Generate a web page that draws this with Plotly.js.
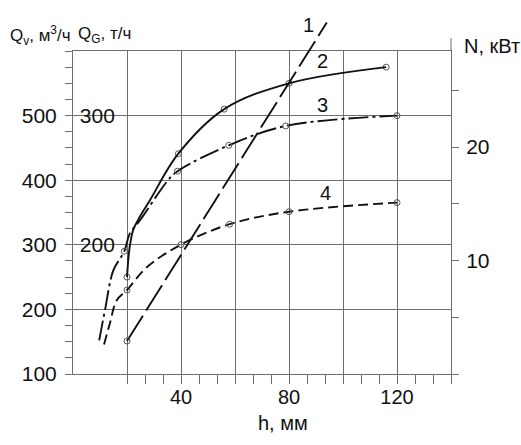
<!DOCTYPE html>
<html>
<head>
<meta charset="utf-8">
<script src="https://cdn.plot.ly/plotly-3.0.1.min.js"></script>
<style>html,body{margin:0;padding:0;background:#fff;}</style>
</head>
<body>
<div id="chart" style="width:521px;height:445px;"></div>
<script>
// ---- data ----
// curve 1 (long dashes), Qv, м3/ч
const h1 = [20, 94];
const q1 = [151, 644];
const mk1 = [0];
// curve 2 (solid), Qv, м3/ч
const h2 = [20, 21, 22.3, 24.7, 28.5, 39, 56, 80, 116];
const q2 = [250, 297, 323, 343, 369, 441, 510, 550, 575];
const mk2 = [0, 5, 6, 7, 8];
// curve 3 (dash-dot), QG, т/ч
const h3 = [9.7, 11.9, 14.9, 19, 21.1, 24.8, 35.2, 38.7, 57.7, 78.8, 120];
const g3 = [126, 150, 180, 195, 209, 219, 250, 257, 277, 292, 300];
const mk3 = [3, 7, 8, 9, 10];
// curve 4 (short dashes), N, кВт
const h4 = [11.5, 13.7, 16.2, 20, 27.3, 40, 58, 80, 120];
const n4 = [2.6, 4.5, 6.5, 7.4, 9.4, 11.4, 13.2, 14.3, 15.1];
const mk4 = [3, 5, 6, 7, 8];

// tick labels / grid positions
const xLabelVals = [40, 80, 120];
const xGridVals = [20, 60, 100];
const qvTickVals = [100, 200, 300, 400, 500];
const qgTickVals = [200, 300];
const nTickVals = [10, 20];

// ---- styling ----
const FONT = '"Liberation Sans Narrow", "Arial Narrow", "Liberation Sans", Arial, sans-serif';
const GRID = '#6f6f6f';
const INK = '#111111';
const MK = {symbol: 'circle-open', size: 6, color: '#555', line: {width: 1, color: '#555'}};

function curve(h, v, dash, xa, ya) {
  return {x: h, y: v, mode: 'lines', xaxis: xa, yaxis: ya, hoverinfo: 'skip',
          line: {color: INK, width: 1.9, dash: dash, shape: 'spline', smoothing: 1}};
}
function marks(h, v, idx, xa, ya) {
  return {x: idx.map(i => h[i]), y: idx.map(i => v[i]), mode: 'markers',
          xaxis: xa, yaxis: ya, marker: MK, hoverinfo: 'skip'};
}

const traces = [
  curve(h2, q2, 'solid', 'x3', 'y'), marks(h2, q2, mk2, 'x', 'y'),
  curve(h3, g3, '20px,4px,3px,4px', 'x', 'y2'), marks(h3, g3, mk3, 'x', 'y2'),
  curve(h4, n4, '10px,5px', 'x', 'y3'), marks(h4, n4, mk4, 'x', 'y3'),
  {x: h1, y: q1, mode: 'lines', xaxis: 'x2', yaxis: 'y4', hoverinfo: 'skip',
   line: {color: INK, width: 1.9, dash: '30px,6px'}},
  marks(h1, q1, mk1, 'x2', 'y4')
];

// plot area: x 73..451, y 15..374 ; main grid top at y=51
const PH = 359;
const D = 323 / PH;

const layout = {
  width: 521, height: 445,
  margin: {l: 73, r: 70, t: 15, b: 71, pad: 0},
  paper_bgcolor: '#ffffff', plot_bgcolor: 'rgba(0,0,0,0)',
  showlegend: false,
  font: {family: FONT, size: 20, color: INK},
  xaxis: {
    domain: [0, 1], range: [0, 140], anchor: 'y',
    tickmode: 'array', tickvals: xLabelVals,
    ticks: 'outside', ticklen: 9, tickcolor: GRID, tickwidth: 1, ticklabelstandoff: -4,
    tickfont: {size: 20, family: FONT, color: INK},
    showgrid: true, gridcolor: GRID, gridwidth: 1,
    showline: true, mirror: true, linecolor: GRID, linewidth: 1, zeroline: false,
    minor: {dtick: 20 / 3, tick0: 0, ticks: 'outside', ticklen: 9, tickcolor: GRID, tickwidth: 1, showgrid: false}
  },
  xaxis3: {
    overlaying: 'x', anchor: 'y', range: [0, 140],
    tickmode: 'array', tickvals: xGridVals, ticks: '', showticklabels: false,
    showgrid: true, gridcolor: GRID, gridwidth: 1, showline: false, zeroline: false
  },
  yaxis: {
    domain: [0, D], range: [100, 600], anchor: 'x',
    tickmode: 'array', tickvals: qvTickVals,
    ticks: 'outside', ticklen: 7, tickcolor: GRID, tickwidth: 1, ticklabelstandoff: 4,
    tickfont: {size: 21, family: FONT, color: INK},
    showgrid: true, gridcolor: GRID, gridwidth: 1,
    showline: true, linecolor: GRID, linewidth: 1, zeroline: false,
    minor: {dtick: 25, tick0: 0, ticks: 'outside', ticklen: 7, tickcolor: GRID, tickwidth: 1, showgrid: false}
  },
  yaxis2: {
    overlaying: 'y', anchor: 'x', side: 'left', range: [100, 350],
    tickmode: 'array', tickvals: qgTickVals,
    ticks: 'inside', ticklen: 6, tickcolor: GRID, tickwidth: 1,
    ticklabelposition: 'inside', ticklabelstandoff: 2,
    tickfont: {size: 21, family: FONT, color: INK},
    showgrid: false, showline: false, zeroline: false
  },
  yaxis3: {
    overlaying: 'y', anchor: 'x', side: 'right', range: [0, 28.46],
    tickmode: 'array', tickvals: nTickVals,
    ticks: 'outside', ticklen: 7, tickcolor: GRID, tickwidth: 1, ticklabelstandoff: 3,
    tickfont: {size: 21, family: FONT, color: INK},
    showgrid: false, showline: true, linecolor: GRID, linewidth: 1, zeroline: false,
    minor: {dtick: 5, tick0: 0, ticks: 'outside', ticklen: 7, tickcolor: GRID, tickwidth: 1, showgrid: false}
  },
  xaxis2: {domain: [0, 1], range: [0, 140], anchor: 'y4', visible: false},
  yaxis4: {domain: [0, 1], range: [100, 100 + PH * 500 / 323], anchor: 'x2', visible: false},
  shapes: [
    {type: 'line', xref: 'paper', yref: 'paper', x0: 1, x1: 1, y0: D, y1: (374 - 38) / PH,
     line: {color: GRID, width: 1}}
  ],
  annotations: [
    {text: 'Q<sub>v</sub>, м<sup>3</sup>/ч', xref: 'paper', yref: 'paper', x: (8 - 73) / 378, y: (374 - 35) / PH,
     xanchor: 'left', yanchor: 'middle', showarrow: false, font: {size: 17}},
    {text: 'Q<sub>G</sub>, т/ч', xref: 'paper', yref: 'paper', x: (76 - 73) / 378, y: (374 - 35) / PH,
     xanchor: 'left', yanchor: 'middle', showarrow: false, font: {size: 17}},
    {text: 'N, кВт', xref: 'paper', yref: 'paper', x: (462 - 73) / 378, y: (374 - 46) / PH,
     xanchor: 'left', yanchor: 'middle', showarrow: false, font: {size: 20}},
    {text: 'h, мм', xref: 'paper', yref: 'paper', x: (283 - 73) / 378, y: (374 - 423) / PH,
     xanchor: 'center', yanchor: 'middle', showarrow: false, font: {size: 20}},
    {text: '1', xref: 'paper', yref: 'paper', x: (308 - 73) / 378, y: (374 - 25) / PH,
     xanchor: 'center', yanchor: 'middle', showarrow: false, font: {size: 20}},
    {text: '2', xref: 'paper', yref: 'paper', x: (322 - 73) / 378, y: (374 - 61) / PH,
     xanchor: 'center', yanchor: 'middle', showarrow: false, font: {size: 20}},
    {text: '3', xref: 'paper', yref: 'paper', x: (322 - 73) / 378, y: (374 - 105) / PH,
     xanchor: 'center', yanchor: 'middle', showarrow: false, font: {size: 20}},
    {text: '4', xref: 'paper', yref: 'paper', x: (325 - 73) / 378, y: (374 - 193) / PH,
     xanchor: 'center', yanchor: 'middle', showarrow: false, font: {size: 20}}
  ]
};

Plotly.newPlot('chart', traces, layout, {staticPlot: true, displayModeBar: false});
</script>
</body>
</html>
